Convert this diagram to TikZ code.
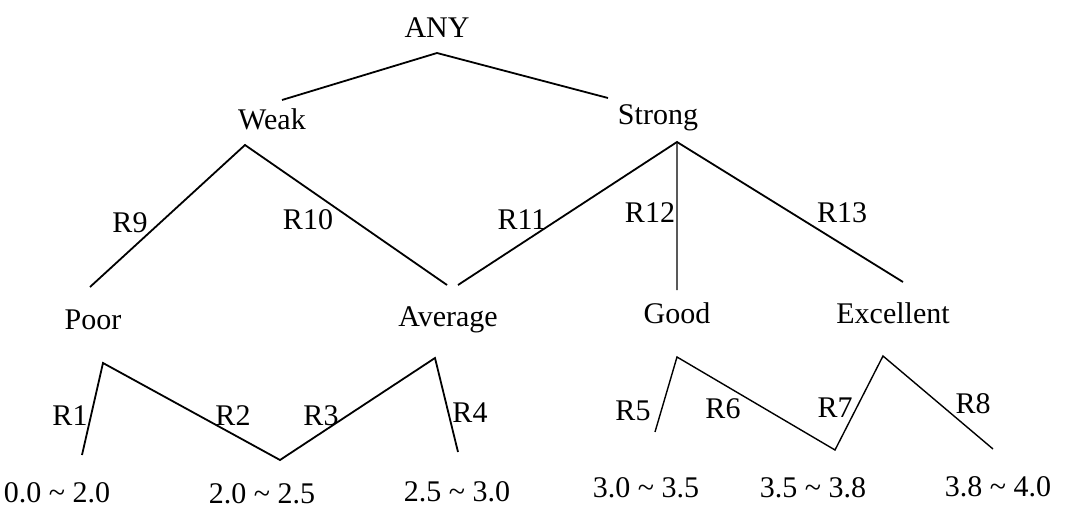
\documentclass[tikz,border=0pt]{standalone}
\usepackage{fontspec}
\setmainfont{Liberation Serif}
\begin{document}
\begin{tikzpicture}[x=0.5pt,y=-0.5pt,line width=0.9pt,font=\fontsize{15}{17}\selectfont]
	\useasboundingbox (0,0) rectangle (1067,508);
	% ends of the lines
	\path (437,53) coordinate (any)
	(282,100) coordinate (any_l) (608,98) coordinate (any_r)
	(245,145) coordinate (weak) (677,142) coordinate (strong)
	(90,287) coordinate (poor) (447,285) coordinate (avg_l) (458,285) coordinate (avg_r)
	(677,290) coordinate (good) (903,282) coordinate (exc)
	(82,455) coordinate (a_1) (103,363) coordinate (a_2) (280,460) coordinate (a_3)
	(435,358) coordinate (a_4) (458,452) coordinate (a_5)
	(655,432) coordinate (b_1) (677,357) coordinate (b_2) (835,450) coordinate (b_3)
	(883,356) coordinate (b_4) (993,449) coordinate (b_5);
	\draw (any_l)--(any)--(any_r);
	\draw (poor)--(weak)--(avg_l) (avg_r)--(strong)--(exc);
	\draw (a_1)--(a_2)--(a_3)--(a_4)--(a_5);
	\draw[line width=0.7pt] (strong)--(good) (b_1)--(b_2)--(b_3)--(b_4)--(b_5);
	% concepts
	\foreach \x/\y/\n/\t in {437/38/cAny/ANY, 272/130/cWeak/Weak, 658/125/cStrong/Strong,
		93/329/cPoor/Poor, 448/326/cAverage/Average, 677/323/cGood/Good, 893/323/cExcellent/Excellent}{
		\node[anchor=base,inner sep=0pt] (\n) at (\x,\y) {\t};
	}
	% rules
	\foreach \x/\y/\t in {130/233/9, 308/230/10, 522/230/11, 650/222/12, 842/222/13,
		70/425/1, 233/425/2, 321/425/3, 470/422/4, 633/420/5, 723/418/6, 835/417/7, 973/413/8}{
		\node[anchor=base,inner sep=0pt] (r\t) at (\x,\y) {R\t};
	}
	% ranges
	\foreach \x/\y/\n/\a/\b in {57/502/g1/0.0/2.0, 262/503/g2/2.0/2.5, 457/501/g3/2.5/3.0,
		646/497/g4/3.0/3.5, 813/497/g5/3.5/3.8, 998/496/g6/3.8/4.0}{
		\node[anchor=base,inner sep=0pt] (\n) at (\x,\y) {\a{} \textasciitilde{} \b};
	}
\end{tikzpicture}
\end{document}
